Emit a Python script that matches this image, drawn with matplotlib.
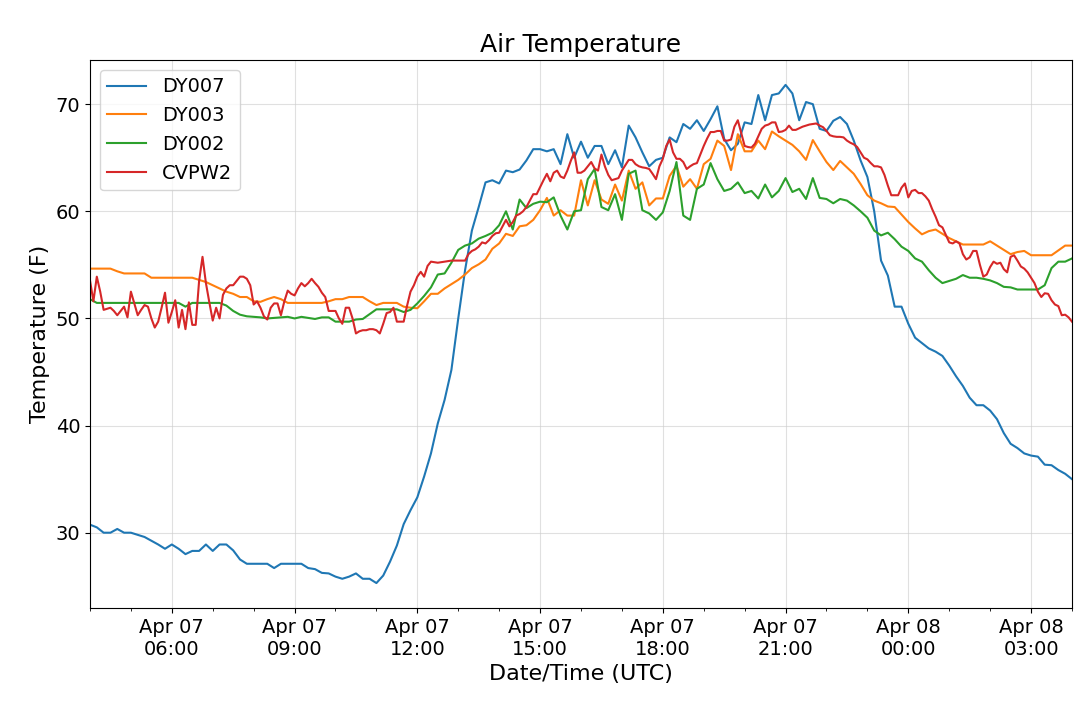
import numpy as np
import pandas as pd
import matplotlib
matplotlib.use('Agg')
import matplotlib.pyplot as plt
import matplotlib.dates as mdates

# 10-minute stations, Apr 07 04:00 -> Apr 08 04:00 UTC
times_10 = pd.date_range('2019-04-07 04:00', '2019-04-08 04:00', freq='10min')
# CVPW2 reports every 5 minutes
times_5 = pd.date_range('2019-04-07 04:00', '2019-04-08 04:00', freq='5min')

dy007 = [30.75, 30.5, 30.0, 30.0, 30.35, 30.0, 30.0, 29.8, 29.6, 29.25, 28.9, 28.5,
         28.9, 28.5, 28.0, 28.3, 28.3, 28.9, 28.3, 28.9, 28.9, 28.35, 27.5, 27.1,
         27.1, 27.1, 27.1, 26.7, 27.1, 27.1, 27.1, 27.1, 26.7, 26.6, 26.25, 26.2,
         25.9, 25.7, 25.9, 26.2, 25.7, 25.7, 25.3, 26.0, 27.3, 28.8, 30.8, 32.1,
         33.3, 35.25, 37.4, 40.2, 42.4, 45.2, 50.0, 54.5, 58.2, 60.4, 62.7, 62.9,
         62.6, 63.8, 63.65, 63.9, 64.75, 65.8, 65.8, 65.6, 65.8, 64.4, 67.2, 65.0,
         66.5, 65.0, 66.1, 66.1, 64.4, 65.7, 64.1, 68.0, 66.9, 65.5, 64.2, 64.8,
         65.0, 66.9, 66.45, 68.15, 67.7, 68.5, 67.5, 68.6, 69.8, 66.75, 65.7, 66.3,
         68.3, 68.15, 70.85, 68.5, 70.85, 71.0, 71.8, 71.0, 68.5, 70.2, 70.0, 67.7,
         67.5, 68.45, 68.8, 68.15, 66.6, 64.75, 63.2, 60.0, 55.4, 54.0, 51.1, 51.1,
         49.5, 48.2, 47.7, 47.2, 46.9, 46.5, 45.6, 44.6, 43.7, 42.6, 41.9, 41.9,
         41.4, 40.6, 39.3, 38.3, 37.9, 37.4, 37.2, 37.1, 36.35, 36.3, 35.85, 35.5,
         35.0]

dy003 = [54.65, 54.65, 54.65, 54.65, 54.4, 54.2, 54.2, 54.2, 54.2, 53.8, 53.8, 53.8,
         53.8, 53.8, 53.8, 53.8, 53.6, 53.4, 53.1, 52.8, 52.5, 52.3, 52.0, 52.0,
         51.6, 51.55, 51.8, 52.0, 51.8, 51.45, 51.45, 51.45, 51.45, 51.45, 51.45, 51.6,
         51.8, 51.8, 52.0, 52.0, 52.0, 51.6, 51.25, 51.45, 51.45, 51.45, 51.1, 51.0,
         50.95, 51.6, 52.3, 52.3, 52.8, 53.2, 53.6, 54.1, 54.7, 55.05, 55.5, 56.5,
         57.0, 57.9, 57.7, 58.6, 58.7, 59.2, 60.1, 61.25, 59.6, 60.1, 59.6, 59.6,
         62.9, 60.55, 62.9, 61.1, 60.7, 62.5, 61.0, 63.8, 62.1, 62.7, 60.55, 61.2,
         61.2, 63.3, 64.25, 62.3, 63.0, 62.1, 64.4, 64.9, 66.6, 66.1, 63.85, 67.2,
         65.6, 65.6, 66.6, 65.8, 67.45, 67.0, 66.6, 66.2, 65.6, 64.8, 66.65, 65.6,
         64.6, 63.85, 64.7, 64.1, 63.5, 62.55, 61.5, 61.0, 60.75, 60.45, 60.4, 59.7,
         59.0, 58.4, 57.85, 58.15, 58.3, 57.9, 57.5, 57.2, 56.9, 56.9, 56.9, 56.9,
         57.2, 56.8, 56.4, 56.0, 56.2, 56.3, 55.9, 55.9, 55.9, 55.9, 56.35, 56.8,
         56.8]

dy002 = [51.8, 51.45, 51.45, 51.45, 51.45, 51.45, 51.45, 51.45, 51.45, 51.45, 51.45, 51.45,
         51.45, 51.45, 51.1, 51.45, 51.45, 51.45, 51.45, 51.45, 51.2, 50.7, 50.35, 50.2,
         50.15, 50.1, 50.0, 50.05, 50.1, 50.15, 50.0, 50.15, 50.05, 49.95, 50.1, 50.1,
         49.7, 49.7, 49.7, 49.9, 49.95, 50.4, 50.85, 50.85, 50.85, 50.85, 50.6, 50.8,
         51.4, 52.1, 52.9, 54.1, 54.2, 55.2, 56.4, 56.8, 57.0, 57.45, 57.7, 58.0,
         58.7, 60.0, 58.3, 61.1, 60.3, 60.7, 60.9, 60.85, 61.3, 59.6, 58.3, 60.0,
         60.1, 63.0, 63.95, 60.4, 60.1, 61.6, 59.2, 63.5, 63.8, 60.1, 59.8, 59.2,
         59.9, 61.9, 64.6, 59.6, 59.2, 62.1, 62.5, 64.5, 63.0, 61.9, 62.1, 62.7,
         61.7, 61.9, 61.2, 62.5, 61.3, 61.9, 63.1, 61.8, 62.1, 61.15, 63.1, 61.25,
         61.15, 60.75, 61.15, 61.0, 60.55, 60.0, 59.4, 58.2, 57.75, 58.0, 57.4, 56.7,
         56.3, 55.6, 55.3, 54.5, 53.8, 53.3, 53.5, 53.7, 54.05, 53.8, 53.8, 53.7,
         53.55, 53.3, 52.95, 52.9, 52.7, 52.7, 52.7, 52.7, 53.1, 54.7, 55.3, 55.3,
         55.6]

cvpw2 = [53.55, 51.6, 53.9, 52.5, 50.8, 50.9, 51.0, 50.7, 50.3, 50.7, 51.1, 50.1,
         52.5, 51.4, 50.3, 50.8, 51.25, 51.1, 50.0, 49.15, 49.7, 51.0, 52.4, 49.6,
         50.6, 51.7, 49.15, 50.8, 49.0, 51.5, 49.4, 49.4, 53.5, 55.75, 53.3, 51.5,
         49.8, 51.0, 50.0, 52.2, 52.8, 53.1, 53.1, 53.5, 53.9, 53.9, 53.7, 53.1,
         51.3, 51.6, 51.0, 50.2, 49.9, 51.0, 51.4, 51.4, 50.3, 51.6, 52.6, 52.3,
         52.15, 52.8, 53.3, 53.0, 53.3, 53.7, 53.3, 52.95, 52.4, 52.0, 50.7, 50.7,
         50.7, 50.0, 49.5, 51.0, 51.0, 50.0, 48.6, 48.8, 48.9, 48.9, 49.0, 49.0,
         48.9, 48.6, 49.5, 50.5, 50.6, 51.0, 49.7, 49.7, 49.7, 51.2, 52.5, 53.1,
         53.9, 54.35, 53.9, 54.9, 55.3, 55.25, 55.2, 55.25, 55.3, 55.35, 55.4, 55.4,
         55.4, 55.4, 55.4, 56.0, 56.3, 56.45, 56.7, 57.1, 57.0, 57.3, 57.7, 57.95,
         58.0, 58.6, 59.2, 58.6, 59.0, 59.6, 59.75, 60.0, 60.4, 61.0, 61.6, 61.6,
         62.25, 62.9, 63.5, 62.8, 63.6, 63.8, 63.25, 63.1, 63.8, 64.7, 65.5, 63.6,
         63.6, 63.8, 64.2, 64.6, 64.0, 63.8, 65.3, 64.2, 63.4, 62.9, 63.0, 63.1,
         63.8, 64.3, 64.8, 64.8, 64.4, 64.2, 64.1, 64.05, 63.95, 63.5, 63.0, 64.2,
         64.9, 66.1, 66.7, 65.5, 64.9, 64.9, 64.6, 63.95, 64.2, 64.4, 64.5, 65.3,
         66.1, 66.8, 67.4, 67.4, 67.5, 67.5, 66.6, 66.6, 66.7, 67.9, 68.5, 67.3,
         66.1, 66.0, 65.95, 66.3, 67.0, 67.7, 68.0, 68.1, 68.3, 68.3, 67.4, 67.45,
         67.6, 68.0, 67.6, 67.6, 67.75, 67.9, 68.0, 68.1, 68.15, 68.2, 68.0, 67.85,
         67.5, 67.1, 67.0, 66.95, 66.95, 66.9, 66.6, 66.4, 66.25, 66.0, 65.5, 65.0,
         64.85, 64.5, 64.2, 64.2, 64.1, 63.4, 62.4, 61.5, 61.5, 61.5, 62.2, 62.6,
         61.3, 61.9, 62.0, 61.7, 61.7, 61.4, 61.0, 60.2, 59.5, 58.7, 58.5, 57.8,
         57.1, 57.0, 57.2, 57.0, 56.0, 55.5, 55.7, 56.3, 56.3, 55.0, 53.9, 54.1,
         54.8, 55.3, 55.1, 55.2, 54.6, 54.3, 55.75, 55.9, 55.4, 54.85, 54.65, 54.3,
         53.8, 53.3, 52.5, 52.0, 52.35, 52.3, 51.7, 51.3, 51.15, 50.3, 50.35, 50.1,
         49.7]

fig = plt.figure(figsize=(10.79, 7.09), dpi=100)
ax = fig.add_axes([0.0834, 0.1425, 0.9101, 0.7729])

ax.plot(times_10, dy007, label='DY007')
ax.plot(times_10, dy003, label='DY003')
ax.plot(times_10, dy002, label='DY002')
ax.plot(times_5, cvpw2, label='CVPW2')

ax.set_xlim(times_10[0], times_10[-1])
ax.xaxis.set_major_locator(mdates.HourLocator(byhour=range(0, 24, 3)))
ax.xaxis.set_minor_locator(mdates.HourLocator())
ax.xaxis.set_major_formatter(mdates.DateFormatter('%b %d\n%H:%M'))
ax.tick_params(axis='both', which='major', labelsize=14)

ax.grid(True, color='#cccccc', alpha=0.6, linewidth=0.8)
ax.set_title('Air Temperature', fontsize=18)
ax.set_xlabel('Date/Time (UTC)', fontsize=16)
ax.set_ylabel('Temperature (F)', fontsize=16)
ax.legend(loc='upper left', fontsize=14)

plt.savefig('out.png', dpi=100)
